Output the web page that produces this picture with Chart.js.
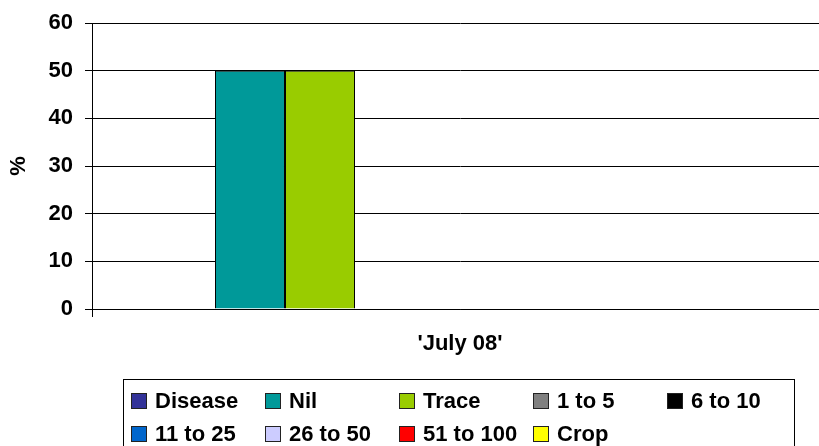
<!DOCTYPE html>
<html>
<head>
<meta charset="utf-8">
<script src="https://cdn.jsdelivr.net/npm/chart.js@4/dist/chart.umd.min.js"></script>
<style>
  html, body { margin: 0; padding: 0; background: #fff; }
  #wrap { position: relative; width: 819px; height: 446px; overflow: hidden; }
  #chart { position: absolute; left: 0; top: 0; }
  #legend {
    position: absolute; left: 123px; top: 379px; width: 672px; height: 90px;
    border: 1px solid #000; box-sizing: border-box;
    display: grid; grid-template-columns: repeat(5, 134px); grid-auto-rows: 33px;
    padding: 4px 0 0 7px;
    font: bold 22px "Liberation Sans", Arial, sans-serif; color: #000;
  }
  .item { display: flex; align-items: center; white-space: nowrap; }
  .sw { width: 14px; height: 14px; border: 1px solid #222; margin-right: 8px; flex: none; }
</style>
</head>
<body>
<div id="wrap">
  <!-- plot runs a little past the right edge of the frame -->
  <canvas id="chart" width="837" height="446"></canvas>
  <div id="legend"></div>
</div>
<script>
// survey month and the share (%) of samples in each class
const categories = ["'July 08'"];
const seriesNames = ['Disease', 'Nil', 'Trace', '1 to 5', '6 to 10', '11 to 25', '26 to 50', '51 to 100', 'Crop'];
const seriesValues = [
  [0],   // Disease
  [50],  // Nil
  [50],  // Trace
  [0],   // 1 to 5
  [0],   // 6 to 10
  [0],   // 11 to 25
  [0],   // 26 to 50
  [0],   // 51 to 100
  [0]    // Crop
];
const seriesColors = ['#333399', '#009999', '#99CC00', '#808080', '#000000', '#0066CC', '#CCCCFF', '#FF0000', '#FFFF00'];
const yTicks = [0, 10, 20, 30, 40, 50, 60];

const FONT = { family: '"Liberation Sans", Arial, sans-serif', size: 22, weight: 'bold' };
const TICK_FONT = { ...FONT, lineHeight: 1 };

const datasets = seriesNames.map((name, i) => ({
    label: name,
    data: seriesValues[i],
    backgroundColor: seriesColors[i],
    borderColor: '#000',
    borderWidth: 1,
    categoryPercentage: 0.856,
    barPercentage: 1
}));

new Chart(document.getElementById('chart'), {
    type: 'bar',
    data: { labels: categories, datasets },
    options: {
        responsive: false,
        animation: false,
        layout: { padding: { top: 20, right: 9, bottom: 0, left: 0 } },
        plugins: { legend: { display: false }, tooltip: { enabled: false } },
        scales: {
            x: {
                grid: { drawOnChartArea: false, color: '#000', tickLength: 8, offset: true },
                border: { color: '#000', width: 1 },
                ticks: { color: '#000', font: FONT, padding: 14 },
                afterFit: s => { s.height = 446 - 309; }
            },
            y: {
                min: 0, max: 60,
                afterBuildTicks: s => { s.ticks = yTicks.map(v => ({ value: v })); },
                grid: { color: '#000', lineWidth: 1, tickLength: 7 },
                border: { color: '#000', width: 1 },
                ticks: { color: '#000', font: TICK_FONT, padding: 12 },
                title: { display: true, text: '%', color: '#000', font: FONT, padding: 6 },
                afterFit: s => { s.width = 92; }
            }
        }
    }
});

// legend laid out in fixed columns
const legend = document.getElementById('legend');
seriesNames.forEach((name, i) => {
    const item = document.createElement('div');
    item.className = 'item';
    item.innerHTML = `<span class="sw" style="background:${seriesColors[i]}"></span><span>${name}</span>`;
    legend.appendChild(item);
});
</script>
</body>
</html>
